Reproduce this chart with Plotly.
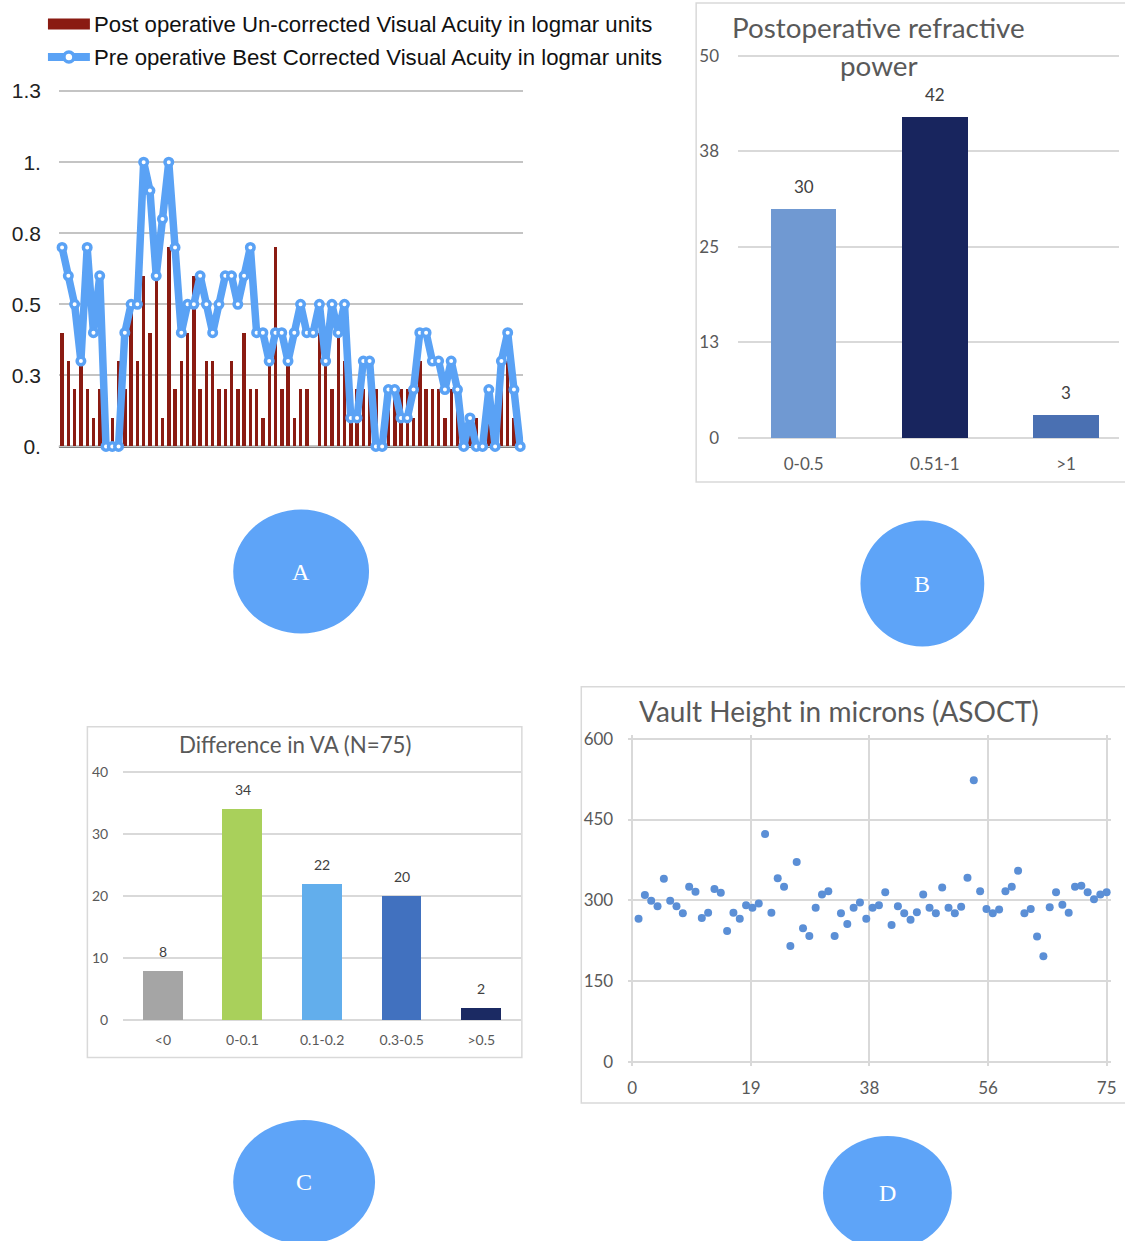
import plotly.graph_objects as go

W, H = 1125, 1241

# ---------------- Panel A data ----------------
post_ucva = [0.4, 0.3, 0.2, 0.3, 0.2, 0.1, 0.2, 0.0, 0.1, 0.3,
             0.2, 0.5, 0.3, 0.6, 0.4, 0.6, 0.1, 0.7, 0.2, 0.3,
             0.4, 0.6, 0.2, 0.3, 0.3, 0.2, 0.2, 0.3, 0.2, 0.4,
             0.2, 0.2, 0.1, 0.3, 0.7, 0.2, 0.3, 0.1, 0.2, 0.2,
             0.0, 0.4, 0.3, 0.2, 0.4, 0.3, 0.2, 0.2, 0.2, 0.2,
             0.2, 0.0, 0.2, 0.2, 0.2, 0.2, 0.1, 0.3, 0.2, 0.2,
             0.2, 0.1, 0.2, 0.2, 0.0, 0.1, 0.1, 0.0, 0.1, 0.0,
             0.3, 0.3, 0.1, 0.0]
pre_bcva = [0.7, 0.6, 0.5, 0.3, 0.7, 0.4, 0.6, 0.0, 0.0, 0.0,
            0.4, 0.5, 0.5, 1.0, 0.9, 0.6, 0.8, 1.0, 0.7, 0.4,
            0.5, 0.5, 0.6, 0.5, 0.4, 0.5, 0.6, 0.6, 0.5, 0.6,
            0.7, 0.4, 0.4, 0.3, 0.4, 0.4, 0.3, 0.4, 0.5, 0.4,
            0.4, 0.5, 0.3, 0.5, 0.4, 0.5, 0.1, 0.1, 0.3, 0.3,
            0.0, 0.0, 0.2, 0.2, 0.1, 0.1, 0.2, 0.4, 0.4, 0.3,
            0.3, 0.2, 0.3, 0.2, 0.0, 0.1, 0.0, 0.0, 0.2, 0.0,
            0.3, 0.4, 0.2, 0.0]
patient_no = list(range(1, len(pre_bcva) + 1))
va_tickvals = [0, 0.25, 0.5, 0.75, 1.0, 1.25]
va_ticktext = ["0.", "0.3", "0.5", "0.8", "1.", "1.3"]
legend_post = "Post operative Un-corrected Visual Acuity in logmar units"
legend_pre = "Pre operative Best Corrected Visual Acuity in logmar units"

# ---------------- Panel B data ----------------
refr_cats = ["0-0.5", "0.51-1", ">1"]
refr_counts = [30, 42, 3]
refr_tickvals = [0, 12.5, 25, 37.5, 50]
refr_ticktext = ["0", "13", "25", "38", "50"]
refr_title_1 = "Postoperative refractive"
refr_title_2 = "power"

# ---------------- Panel C data ----------------
diff_cats = ["<0", "0-0.1", "0.1-0.2", "0.3-0.5", ">0.5"]
diff_counts = [8, 34, 22, 20, 2]
diff_tickvals = [0, 10, 20, 30, 40]
diff_title = "Difference in VA (N=75)"

# ---------------- Panel D data ----------------
vault_um = [266, 310, 299, 289, 340, 299, 289, 276, 325, 316,
            267, 277, 321, 314, 243, 277, 266, 291, 286, 294,
            423, 277, 341, 325, 215, 371, 248, 234, 286, 311,
            317, 234, 276, 256, 286, 296, 266, 286, 291, 315,
            254, 289, 276, 264, 278, 311, 286, 276, 324, 286,
            276, 288, 342, 523, 317, 284, 276, 283, 317, 325,
            355, 276, 284, 233, 196, 287, 315, 292, 277, 325,
            327, 315, 302, 311, 315]
eye_no = list(range(1, len(vault_um) + 1))
vault_yticks = [0, 150, 300, 450, 600]
vault_xtickvals = [0, 18.75, 37.5, 56.25, 75]
vault_xticktext = ["0", "19", "38", "56", "75"]
vault_title = "Vault Height in microns (ASOCT)"

panel_letters = ["A", "B", "C", "D"]

# page-capture compensation (offset/scale observed in the rendered page)
Y_OFF, Y_SCL = 8.0, 0.987
X_OFF, X_SCL = 0.0, 0.995


def px(x):
    return ((x - X_OFF) / X_SCL) / W


def py(y):
    return 1 - ((y - Y_OFF) / Y_SCL) / H


def pad_x(lo, hi, p_lo, p_hi, pad=4):
    """x axis: value lo sits at pixel p_lo, hi at p_hi; extend by pad px each side."""
    k = (hi - lo) / (p_hi - p_lo)
    return [px(p_lo - pad), px(p_hi + pad)], [lo - pad * k, hi + pad * k]


def pad_y(lo, hi, p_lo, p_hi, pad=4):
    """y axis: value lo at pixel row p_lo (bottom), hi at p_hi (top)."""
    k = (hi - lo) / (p_lo - p_hi)
    return [py(p_lo + pad), py(p_hi - pad)], [lo - pad * k, hi + pad * k]


GRAY_TXT = "#595959"
GRID = "#d9d9d9"
CAL = "Lato, Open Sans, sans-serif"
ARIAL = "Liberation Sans, Arial, sans-serif"
BLUE_LINE = "#5aa2f5"
RED_BAR = "#8a1b12"

fig = go.Figure()

# Panel A
fig.add_trace(go.Bar(x=patient_no, y=post_ucva, marker_color=RED_BAR, marker_line_width=0,
                     width=0.55, xaxis="x", yaxis="y", name=legend_post, showlegend=False))
fig.add_trace(go.Scatter(x=patient_no, y=pre_bcva, mode="lines+markers",
                         line=dict(color=BLUE_LINE, width=7.5),
                         marker=dict(size=7.5, color="white", line=dict(color=BLUE_LINE, width=3.5)),
                         cliponaxis=False, xaxis="x", yaxis="y", name=legend_pre, showlegend=False))

# Panel B
fig.add_trace(go.Bar(x=refr_cats, y=refr_counts, marker_color=["#7099d2", "#18255e", "#4a70b2"],
                     marker_line_width=0, width=0.5, xaxis="x2", yaxis="y2", showlegend=False))

# Panel C
fig.add_trace(go.Bar(x=diff_cats, y=diff_counts,
                     marker_color=["#a5a5a5", "#a9d05b", "#62aeec", "#4171bf", "#1b2a63"],
                     marker_line_width=0, width=0.5, xaxis="x3", yaxis="y3", showlegend=False))

# Panel D
fig.add_trace(go.Scatter(x=eye_no, y=vault_um, mode="markers",
                         marker=dict(size=8, color="#5b8fd6"), cliponaxis=False,
                         xaxis="x4", yaxis="y4", showlegend=False))

yA_dom, yA_rng = pad_y(0, 1.25, 446, 91)
yB_dom, yB_rng = pad_y(0, 50, 437.3, 55.7)
yC_dom, yC_rng = pad_y(0, 40, 1019, 771)
xD_dom, xD_rng = pad_x(0, 75, 632, 1107)
yD_dom, yD_rng = pad_y(0, 600, 1061, 738)
xA_dom, xA_rng = pad_x(0.5, len(patient_no) + 0.5, 58, 523, pad=0)
xB_dom, xB_rng = pad_x(-0.5, 2.5, 738, 1132, pad=0)
xC_dom, xC_rng = pad_x(-0.5, 4.5, 122.3, 520.7, pad=0)
xB_dom[1] = min(xB_dom[1], 1.0)
xB_rng[1] = -0.5 + (xB_rng[1] - xB_rng[0]) * (xB_dom[1] - xB_dom[0]) / (px(1132) - px(738))

layout = dict(
    width=W, height=H, autosize=False,
    margin=dict(l=0, r=0, t=0, b=0),
    paper_bgcolor="white", plot_bgcolor="white",
    bargap=0,
    # Panel A axes
    xaxis=dict(domain=xA_dom, range=xA_rng,
               showticklabels=False, showgrid=False, zeroline=False,
               showline=False, ticks="", anchor="y"),
    yaxis=dict(domain=yA_dom, range=yA_rng, tickvals=va_tickvals,
               ticktext=va_ticktext, showgrid=True, gridcolor="#c4c4c4", gridwidth=2,
               zeroline=False, showline=False, ticks="", ticklabelstandoff=17,
               tickfont=dict(family=ARIAL, size=21, color="#222222"), layer="below traces",
               anchor="x"),
    # Panel B axes
    xaxis2=dict(domain=xB_dom, range=xB_rng, showgrid=False, zeroline=False,
                showline=False, ticks="", ticklabelstandoff=10,
                tickfont=dict(family=CAL, size=17, color=GRAY_TXT), anchor="y2"),
    yaxis2=dict(domain=yB_dom, range=yB_rng, tickvals=refr_tickvals,
                ticktext=refr_ticktext, showgrid=True, gridcolor=GRID, gridwidth=1.5,
                zeroline=False, showline=False, ticks="", ticklabelstandoff=18,
                tickfont=dict(family=CAL, size=17, color=GRAY_TXT), anchor="x2"),
    # Panel C axes
    xaxis3=dict(domain=xC_dom, range=xC_rng, showgrid=False, zeroline=False,
                showline=False, ticks="", ticklabelstandoff=6,
                tickfont=dict(family=CAL, size=14, color=GRAY_TXT), anchor="y3"),
    yaxis3=dict(domain=yC_dom, range=yC_rng, tickvals=diff_tickvals,
                showgrid=True, gridcolor=GRID, gridwidth=1.5, zeroline=False, showline=False,
                ticks="", ticklabelstandoff=14,
                tickfont=dict(family=CAL, size=14, color=GRAY_TXT), anchor="x3"),
    # Panel D axes
    xaxis4=dict(domain=xD_dom, range=xD_rng, tickvals=vault_xtickvals,
                ticktext=vault_xticktext, showgrid=True, gridcolor=GRID, gridwidth=2,
                zeroline=False, showline=False, ticks="", ticklabelstandoff=10,
                tickfont=dict(family=CAL, size=17, color=GRAY_TXT), anchor="y4"),
    yaxis4=dict(domain=yD_dom, range=yD_rng, tickvals=vault_yticks,
                showgrid=True, gridcolor=GRID, gridwidth=2, zeroline=False, showline=False,
                ticks="", ticklabelstandoff=14,
                tickfont=dict(family=CAL, size=17, color=GRAY_TXT), anchor="x4"),
)
fig.update_layout(**layout)

shapes = []
annotations = []

# Panel A baseline (black axis line at value 0)
shapes.append(dict(type="line", xref="x domain", yref="y", x0=0, x1=1, y0=0, y1=0,
                   line=dict(color="#000000", width=2), layer="below"))

# Bar value labels, placed from the data arrays
for cat, val in zip(refr_cats, refr_counts):
    annotations.append(dict(x=cat, y=val, xref="x2", yref="y2", text=str(val), showarrow=False,
                            xanchor="center", yanchor="middle", yshift=22,
                            font=dict(family=CAL, size=17, color="#404040")))
for cat, val in zip(diff_cats, diff_counts):
    annotations.append(dict(x=cat, y=val, xref="x3", yref="y3", text=str(val), showarrow=False,
                            xanchor="center", yanchor="middle", yshift=19,
                            font=dict(family=CAL, size=14, color="#404040")))

# frames
for (x0, y0, x1, y1) in [(696, 3, 1135, 481.5), (86.5, 726, 521.5, 1056.5), (581, 686, 1135, 1102)]:
    shapes.append(dict(type="rect", xref="paper", yref="paper", x0=px(x0), x1=px(x1),
                       y0=py(y1), y1=py(y0), line=dict(color=GRID, width=1.5),
                       fillcolor="rgba(0,0,0,0)", layer="below"))

# Panel A legend (manual)
shapes.append(dict(type="rect", xref="paper", yref="paper", x0=px(47), x1=px(89),
                   y0=py(29.5), y1=py(18.5), line=dict(width=0), fillcolor=RED_BAR))
shapes.append(dict(type="line", xref="paper", yref="paper", x0=px(47), x1=px(89),
                   y0=py(57), y1=py(57), line=dict(color=BLUE_LINE, width=8)))
shapes.append(dict(type="circle", xref="paper", yref="paper", x0=px(63), x1=px(73),
                   y0=py(62), y1=py(52), line=dict(color=BLUE_LINE, width=3.5), fillcolor="white"))
annotations.append(dict(x=px(91.5), y=py(24), xref="paper", yref="paper", text=legend_post,
                        showarrow=False, xanchor="left", yanchor="middle",
                        font=dict(family=ARIAL, size=22.2, color="#111111")))
annotations.append(dict(x=px(91.5), y=py(57), xref="paper", yref="paper", text=legend_pre,
                        showarrow=False, xanchor="left", yanchor="middle",
                        font=dict(family=ARIAL, size=22.2, color="#111111")))

# Titles
annotations.append(dict(x=px(878.5), y=py(27), xref="paper", yref="paper", text=refr_title_1,
                        showarrow=False, xanchor="center", yanchor="middle",
                        font=dict(family=CAL, size=27.8, color=GRAY_TXT)))
annotations.append(dict(x=px(879), y=py(65), xref="paper", yref="paper", text=refr_title_2,
                        showarrow=False, xanchor="center", yanchor="middle",
                        font=dict(family=CAL, size=27.8, color=GRAY_TXT)))
annotations.append(dict(x=px(295), y=py(744), xref="paper", yref="paper", text=diff_title,
                        showarrow=False, xanchor="center", yanchor="middle",
                        font=dict(family=CAL, size=22.3, color=GRAY_TXT)))
annotations.append(dict(x=px(839), y=py(710), xref="paper", yref="paper", text=vault_title,
                        showarrow=False, xanchor="center", yanchor="middle",
                        font=dict(family=CAL, size=28, color=GRAY_TXT)))

# Panel label circles
circles = [(300.5, 571, 68, 62), (922.5, 583, 62, 63), (303.5, 1181, 71, 62), (887.5, 1192, 64.5, 57)]
for letter, (cx, cy, rx, ry) in zip(panel_letters, circles):
    shapes.append(dict(type="circle", xref="paper", yref="paper", x0=px(cx - rx), x1=px(cx + rx),
                       y0=py(cy + ry), y1=py(cy - ry), line=dict(width=0), fillcolor="#5ea4f8"))
    annotations.append(dict(x=px(cx), y=py(cy), xref="paper", yref="paper", text=letter,
                            showarrow=False, xanchor="center", yanchor="middle",
                            font=dict(family="Liberation Serif, DejaVu Serif, serif", size=24,
                                      color="white")))

fig.update_layout(shapes=shapes, annotations=annotations)

post = ("document.documentElement.style.margin='0';document.documentElement.style.padding='0';"
        "document.documentElement.style.overflow='hidden';"
        "document.body.style.margin='0';document.body.style.padding='0';"
        "document.body.style.overflow='hidden';"
        "var gd=document.getElementsByClassName('plotly-graph-div')[0];"
        "if(gd){gd.style.position='fixed';gd.style.left='0px';gd.style.top='0px';}")
fig.write_html("out.html", config={"displayModeBar": False}, post_script=post)
